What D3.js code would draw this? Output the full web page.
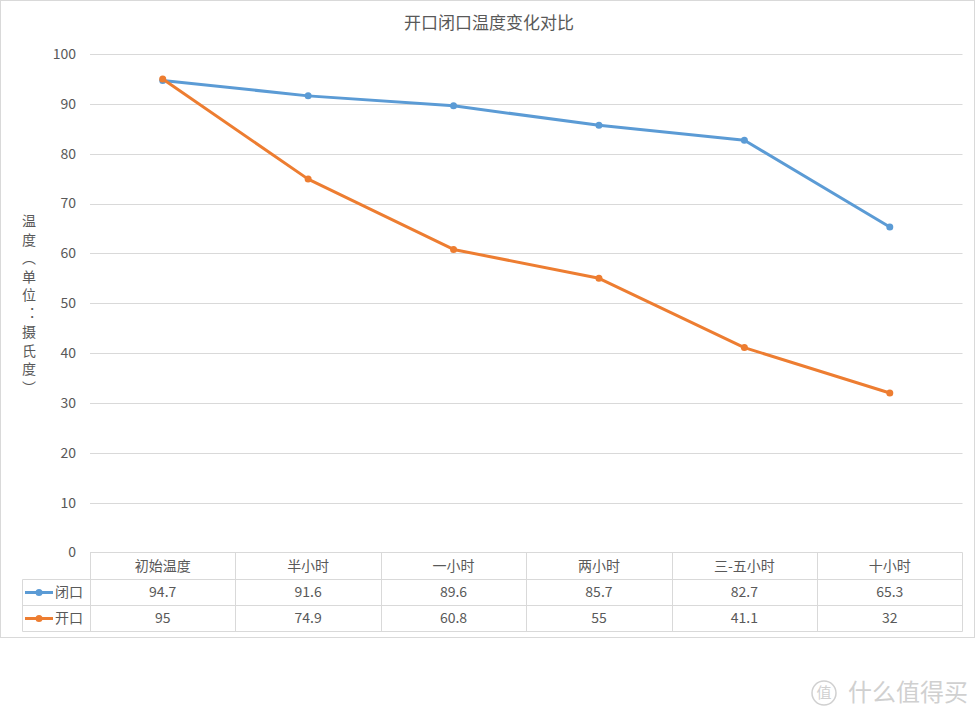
<!DOCTYPE html>
<meta charset="utf-8">
<head>
  <title>开口闭口温度变化对比</title>
</head>
<style>
  body { margin: 0; background: #fff; }
  text { font-family: "Noto Sans CJK SC", "Noto Sans", sans-serif; fill: #595959; }
</style>
<body>
  <svg width="978" height="723"></svg>
  <script src="https://cdn.jsdelivr.net/npm/d3@7"></script>
  <script>
    var categories = ['初始温度', '半小时', '一小时', '两小时', '三-五小时', '十小时']
    var closedVals = [94.7, 91.6, 89.6, 85.7, 82.7, 65.3]
    var openVals = [95, 74.9, 60.8, 55, 41.1, 32]
    var yTicks = [0, 10, 20, 30, 40, 50, 60, 70, 80, 90, 100]

    var series = [
      { name: '闭口', values: closedVals, color: '#5B9BD5' },
      { name: '开口', values: openVals, color: '#ED7D31' }
    ]

    var svg = d3.select('svg')
    var grid = '#d9d9d9'

    // chart border
    svg.append('rect')
      .attr('x', 0.5).attr('y', 0.5)
      .attr('width', 974).attr('height', 637)
      .attr('fill', '#fff').attr('stroke', grid)

    var plotL = 90, plotR = 962.5, plotT = 54, plotB = 552.5

    var x = d3.scaleBand().domain(categories).range([plotL, plotR])
    var y = d3.scaleLinear().domain([0, 100]).range([plotB, plotT])

    // gridlines
    svg.append('g').selectAll('line')
      .data(yTicks.filter(function(d) { return d > 0 }))
      .enter().append('line')
      .attr('x1', plotL).attr('x2', plotR)
      .attr('y1', function(d) { return Math.round(y(d)) + 0.5 })
      .attr('y2', function(d) { return Math.round(y(d)) + 0.5 })
      .attr('stroke', grid)

    // y axis labels
    svg.append('g').selectAll('text')
      .data(yTicks)
      .enter().append('text')
      .attr('x', 76)
      .attr('y', function(d) { return y(d) })
      .attr('dy', '0.35em')
      .attr('text-anchor', 'end')
      .style('font-size', '14px')
      .text(function(d) { return d })

    // title
    svg.append('text')
      .attr('x', 489).attr('y', 29)
      .attr('text-anchor', 'middle')
      .style('font-size', '17px')
      .text('开口闭口温度变化对比')

    // y axis title, vertical
    svg.append('text')
      .attr('x', 29).attr('y', 214)
      .style('writing-mode', 'vertical-rl')
      .style('text-orientation', 'mixed')
      .style('font-size', '14px')
      .style('letter-spacing', '4.5px')
      .text('温度（单位：摄氏度）')

    // lines
    var line = d3.line()
      .x(function(d, i) { return x(categories[i]) + x.bandwidth() / 2 })
      .y(function(d) { return y(d) })

    series.forEach(function(s) {
      svg.append('path')
        .datum(s.values)
        .attr('d', line)
        .attr('fill', 'none')
        .attr('stroke', s.color)
        .attr('stroke-width', 3)
        .attr('stroke-linejoin', 'round')
      svg.append('g').selectAll('circle')
        .data(s.values)
        .enter().append('circle')
        .attr('cx', function(d, i) { return x(categories[i]) + x.bandwidth() / 2 })
        .attr('cy', function(d) { return y(d) })
        .attr('r', 3.5)
        .attr('fill', s.color)
    })

    // data table
    var rowH = [552.5, 579.5, 605.5, 631.5]
    var tbl = svg.append('g')
    tbl.append('line').attr('x1', plotL).attr('x2', plotR).attr('y1', rowH[0]).attr('y2', rowH[0]).attr('stroke', grid)
    rowH.slice(1).forEach(function(h) {
      tbl.append('line').attr('x1', 22.5).attr('x2', plotR).attr('y1', h).attr('y2', h).attr('stroke', grid)
    })
    tbl.append('line').attr('x1', 22.5).attr('x2', 22.5).attr('y1', rowH[1]).attr('y2', rowH[3]).attr('stroke', grid)
    categories.forEach(function(c) {
      var xx = Math.round(x(c)) + 0.5
      tbl.append('line').attr('x1', xx).attr('x2', xx).attr('y1', rowH[0]).attr('y2', rowH[3]).attr('stroke', grid)
    })
    tbl.append('line').attr('x1', plotR).attr('x2', plotR).attr('y1', rowH[0]).attr('y2', rowH[3]).attr('stroke', grid)

    tbl.selectAll('.hdr')
      .data(categories)
      .enter().append('text')
      .attr('class', 'hdr')
      .attr('x', function(d) { return x(d) + x.bandwidth() / 2 })
      .attr('y', (rowH[0] + rowH[1]) / 2)
      .attr('dy', '0.35em')
      .attr('text-anchor', 'middle')
      .style('font-size', '14px')
      .text(function(d) { return d })

    series.forEach(function(s, r) {
      var cy = (rowH[r + 1] + rowH[r + 2]) / 2
      tbl.append('line')
        .attr('x1', 25).attr('x2', 53)
        .attr('y1', cy).attr('y2', cy)
        .attr('stroke', s.color).attr('stroke-width', 3)
      tbl.append('circle')
        .attr('cx', 39).attr('cy', cy).attr('r', 3.5).attr('fill', s.color)
      tbl.append('text')
        .attr('x', 55).attr('y', cy).attr('dy', '0.35em')
        .style('font-size', '14px')
        .text(s.name)
      tbl.selectAll('.v' + r)
        .data(s.values)
        .enter().append('text')
        .attr('class', 'v' + r)
        .attr('x', function(d, i) { return x(categories[i]) + x.bandwidth() / 2 })
        .attr('y', cy).attr('dy', '0.35em')
        .attr('text-anchor', 'middle')
        .style('font-size', '14px')
        .text(function(d) { return d })
    })

    // watermark
    var wm = svg.append('g')
    wm.append('circle')
      .attr('cx', 824).attr('cy', 693).attr('r', 12)
      .attr('fill', 'none').attr('stroke', '#d0d0d0').attr('stroke-width', 1.5)
    wm.append('text')
      .attr('x', 824).attr('y', 693).attr('dy', '0.35em')
      .attr('text-anchor', 'middle')
      .style('font-size', '15px').style('fill', '#d0d0d0')
      .text('值')
    wm.append('text')
      .attr('x', 848).attr('y', 693).attr('dy', '0.35em')
      .style('font-size', '24px').style('fill', '#d0d0d0')
      .text('什么值得买')
  </script>
</body>
</html>
